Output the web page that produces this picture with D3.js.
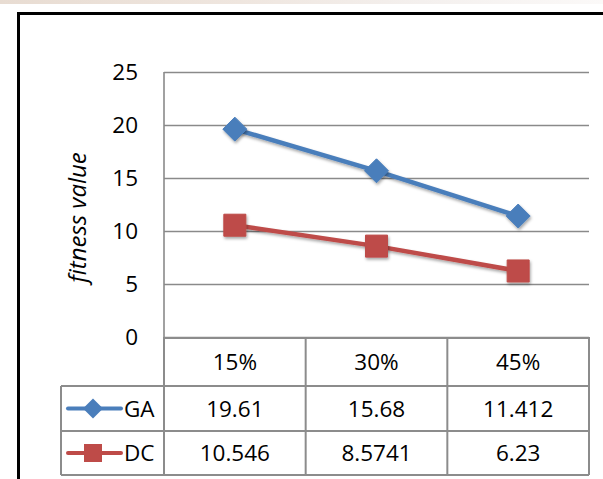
<!DOCTYPE html>
<html>
<head>
<meta charset="utf-8">
<script src="https://cdn.jsdelivr.net/npm/d3@7"></script>
<style>
  html, body { margin: 0; padding: 0; background: #fff; }
  svg { display: block; }
  text { font-family: "Open Sans", "Noto Sans", "Liberation Sans", sans-serif; fill: #000; }
</style>
</head>
<body>
<svg id="chart" width="603" height="479"></svg>
<script>
// Data
const categories = ["15%", "30%", "45%"];
const seriesNames = ["GA", "DC"];
const gaValues = [19.61, 15.68, 11.412];
const dcValues = [10.546, 8.5741, 6.23];
const gaLabels = ["19.61", "15.68", "11.412"];
const dcLabels = ["10.546", "8.5741", "6.23"];
const yTicks = [0, 5, 10, 15, 20, 25];

const series = [
  { name: seriesNames[0], values: gaValues, labels: gaLabels, color: "#4a7ebb", shape: "diamond" },
  { name: seriesNames[1], values: dcValues, labels: dcLabels, color: "#be4b48", shape: "square" }
];

const svg = d3.select("#chart");
const defs = svg.append("defs");
const fontSize = 22.5;

// Soft strip along the top edge
const topGrad = defs.append("linearGradient").attr("id", "topStrip");
topGrad.append("stop").attr("offset", "0%").attr("stop-color", "#e8dcd2");
topGrad.append("stop").attr("offset", "40%").attr("stop-color", "#efe6df");
topGrad.append("stop").attr("offset", "70%").attr("stop-color", "#f4f0ee");
topGrad.append("stop").attr("offset", "100%").attr("stop-color", "#fbf9f8");
svg.append("rect").attr("x", 0).attr("y", 0).attr("width", 603).attr("height", 4)
  .attr("fill", "url(#topStrip)");

// Marker shadow
const shadow = defs.append("filter").attr("id", "shadow")
  .attr("x", "-50%").attr("y", "-50%").attr("width", "200%").attr("height", "200%");
shadow.append("feDropShadow").attr("dx", 1).attr("dy", 2).attr("stdDeviation", 1.5)
  .attr("flood-color", "#000").attr("flood-opacity", 0.35);

// Outer frame
svg.append("path")
  .attr("d", "M18.5,479 V13.5 H603")
  .attr("fill", "none").attr("stroke", "#000").attr("stroke-width", 3);

// Plot geometry
const plotLeft = 164, plotRight = 589, plotTop = 72, plotBottom = 337;
const x = d3.scaleBand().domain(categories).range([plotLeft, plotRight]);
const y = d3.scaleLinear().domain([0, 25]).range([plotBottom, plotTop]);
const gridColor = "#8a8a8a";

// Gridlines
const grid = svg.append("g").attr("transform", `translate(${plotLeft},0)`)
  .call(d3.axisLeft(y).tickValues(yTicks).tickSize(-(plotRight - plotLeft)).tickFormat(""));
grid.select(".domain").remove();
grid.selectAll(".tick line").attr("stroke", gridColor).attr("stroke-width", 1.6);

// Y tick labels
const yAxis = svg.append("g").attr("transform", `translate(${plotLeft - 26},0)`)
  .call(d3.axisLeft(y).tickValues(yTicks).tickSize(0).tickPadding(0));
yAxis.select(".domain").remove();
yAxis.selectAll("text")
  .attr("font-size", fontSize)
  .attr("font-family", "\"Open Sans\", sans-serif")
  .attr("fill", "#000");

// Vertical axis line
svg.append("line").attr("x1", plotLeft).attr("x2", plotLeft).attr("y1", plotTop).attr("y2", plotBottom)
  .attr("stroke", gridColor).attr("stroke-width", 1.6);

// Axis title
svg.append("text")
  .attr("transform", `translate(86,${(plotTop + plotBottom) / 2 + 13}) rotate(-90)`)
  .attr("text-anchor", "middle")
  .attr("font-size", 24)
  .attr("font-style", "italic")
  .text("fitness value");

// Data table
const rowTops = [plotBottom, 386, 431, 475];
const legendLeft = 61;
const tableColor = "#8c8c8c";
const table = svg.append("g").attr("fill", "none").attr("stroke", tableColor).attr("stroke-width", 2);

table.append("line").attr("x1", plotLeft).attr("x2", plotRight).attr("y1", rowTops[0] + 1).attr("y2", rowTops[0] + 1);
rowTops.slice(1).forEach(ry => {
  table.append("line").attr("x1", legendLeft).attr("x2", plotRight).attr("y1", ry).attr("y2", ry);
});
const colEdges = [plotLeft].concat(categories.map(c => x(c) + x.bandwidth()));
colEdges.forEach(cx => {
  table.append("line").attr("x1", cx).attr("x2", cx).attr("y1", rowTops[0]).attr("y2", rowTops[3]);
});
table.append("line").attr("x1", legendLeft).attr("x2", legendLeft).attr("y1", rowTops[1]).attr("y2", rowTops[3]);

// Header row
svg.append("g").selectAll("text").data(categories).join("text")
  .attr("x", d => x(d) + x.bandwidth() / 2)
  .attr("y", (rowTops[0] + rowTops[1]) / 2 + 8)
  .attr("text-anchor", "middle")
  .attr("font-size", fontSize)
  .text(d => d);

function markerPath(shape, cx, cy, s) {
  if (shape === "diamond") {
    return `M${cx},${cy - s} L${cx + s},${cy} L${cx},${cy + s} L${cx - s},${cy} Z`;
  }
  return `M${cx - s},${cy - s} H${cx + s} V${cy + s} H${cx - s} Z`;
}

series.forEach((s, i) => {
  const rowMid = (rowTops[i + 1] + rowTops[i + 2]) / 2;

  // Value cells
  svg.append("g").selectAll("text").data(s.labels).join("text")
    .attr("x", (d, j) => x(categories[j]) + x.bandwidth() / 2)
    .attr("y", rowMid + 8)
    .attr("text-anchor", "middle")
    .attr("font-size", fontSize)
    .text(d => d);

  // Legend key
  svg.append("line").attr("x1", 68).attr("x2", 121).attr("y1", rowMid).attr("y2", rowMid)
    .attr("stroke", s.color).attr("stroke-width", 4).attr("stroke-linecap", "round");
  svg.append("path").attr("d", markerPath(s.shape, 93, rowMid, s.shape === "diamond" ? 10 : 9))
    .attr("fill", s.color);
  svg.append("text").attr("x", 124).attr("y", rowMid + 8).attr("font-size", fontSize).text(s.name);

  // Series line
  const line = d3.line().x((d, j) => x(categories[j]) + x.bandwidth() / 2).y(d => y(d));
  svg.append("path").datum(s.values)
    .attr("d", line)
    .attr("fill", "none")
    .attr("stroke", s.color)
    .attr("stroke-width", 4.5)
    .attr("filter", "url(#shadow)");

  // Markers
  svg.append("g").selectAll("path").data(s.values).join("path")
    .attr("d", (d, j) => markerPath(s.shape, x(categories[j]) + x.bandwidth() / 2, y(d),
      s.shape === "diamond" ? 12 : 11))
    .attr("fill", s.color)
    .attr("stroke", s.color)
    .attr("stroke-width", 1)
    .attr("stroke-linejoin", "round")
    .attr("filter", "url(#shadow)");
});
</script>
</body>
</html>
